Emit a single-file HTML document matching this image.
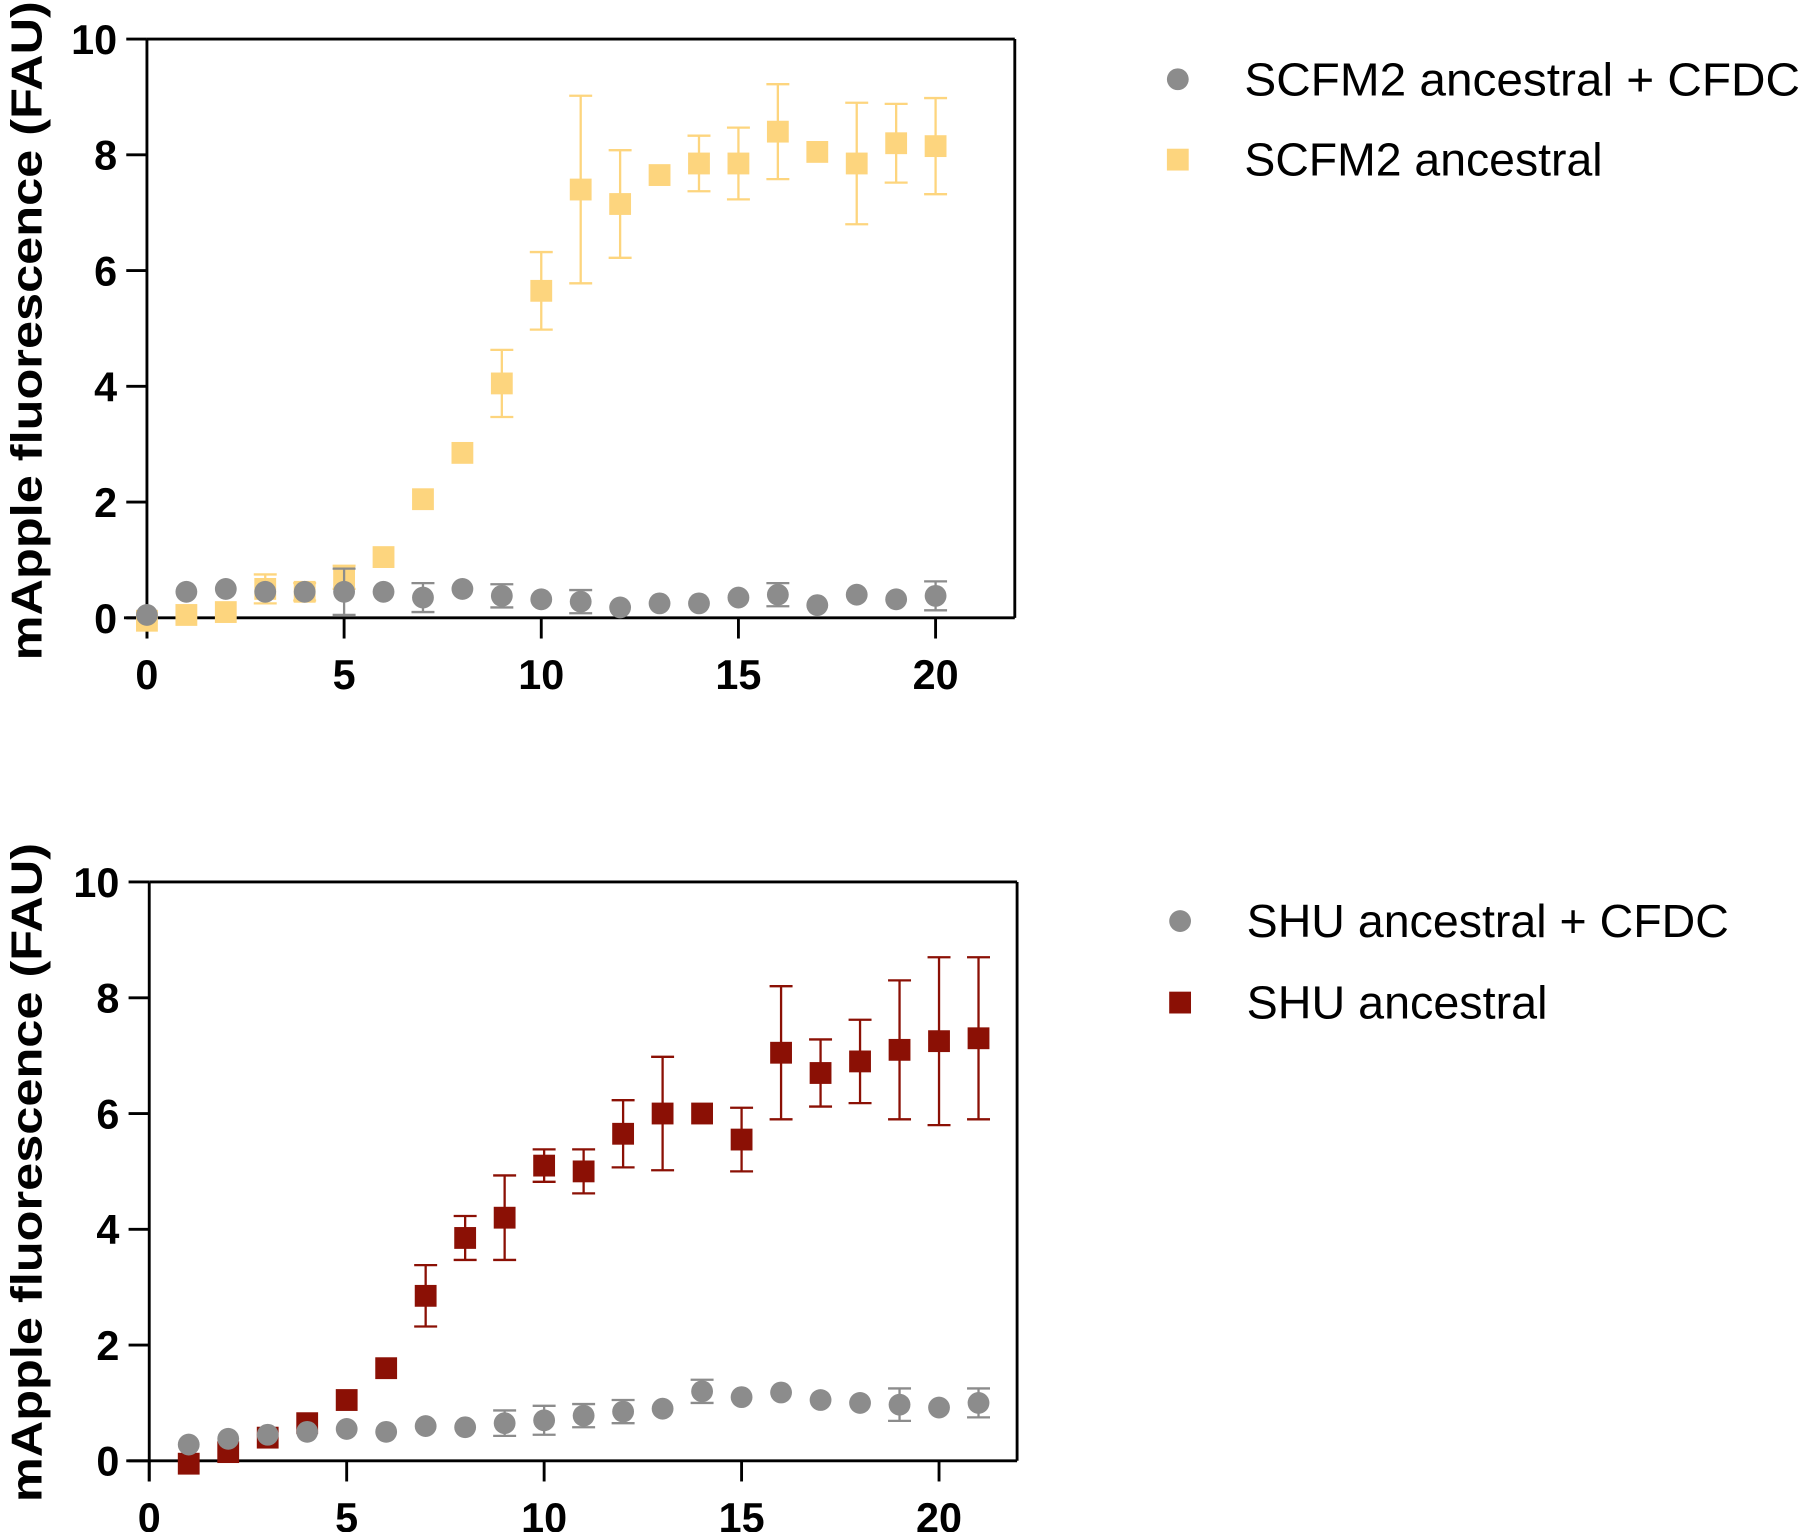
<!DOCTYPE html>
<html><head><meta charset="utf-8"><style>
html,body{margin:0;padding:0;background:#fff;}
svg{display:block;font-family:"Liberation Sans",Arial,sans-serif;}
</style></head><body>
<svg id="chart" width="1800" height="1532" viewBox="0 0 1568 1334" preserveAspectRatio="none" xmlns="http://www.w3.org/2000/svg">
<g id="top"></g>
<g id="bot"></g>
</svg>
<script>
const xTicks=[0,5,10,15,20];
const yTicks=[0,2,4,6,8,10];
const topX=[0,1,2,3,4,5,6,7,8,9,10,11,12,13,14,15,16,17,18,19,20];
const topGray=[0.05,0.45,0.5,0.45,0.45,0.45,0.45,0.35,0.5,0.38,0.32,0.28,0.18,0.25,0.25,0.35,0.4,0.22,0.4,0.32,0.38];
const topGrayErr=[0,0,0,0,0,0.4,0,0.25,0,0.2,0,0.2,0,0,0,0,0.2,0,0,0,0.25];
const topYellow=[-0.05,0.05,0.1,0.5,0.45,0.7,1.05,2.05,2.85,4.05,5.65,7.4,7.15,7.65,7.85,7.85,8.4,8.05,7.85,8.2,8.15];
const topYellowErr=[0,0,0,0.25,0.15,0.2,0,0,0,0.58,0.67,1.62,0.93,0,0.48,0.62,0.82,0,1.05,0.68,0.83];
const botX=[1,2,3,4,5,6,7,8,9,10,11,12,13,14,15,16,17,18,19,20,21];
const botRed=[-0.05,0.15,0.4,0.65,1.05,1.6,2.85,3.85,4.2,5.1,5.0,5.65,6.0,6.0,5.55,7.05,6.7,6.9,7.1,7.25,7.3];
const botRedErr=[0,0,0,0,0,0,0.53,0.38,0.73,0.28,0.38,0.58,0.98,0,0.55,1.15,0.58,0.72,1.2,1.45,1.4];
const botGray=[0.28,0.38,0.45,0.5,0.55,0.5,0.6,0.58,0.65,0.7,0.78,0.85,0.9,1.2,1.1,1.18,1.05,1.0,0.97,0.92,1.0];
const botGrayErr=[0,0,0,0,0,0,0,0,0.22,0.25,0.2,0.2,0,0.2,0,0,0,0,0.28,0,0.25];
const NS="http://www.w3.org/2000/svg";
function mk(p,t,a){const e=document.createElementNS(NS,t);for(const k in a)e.setAttribute(k,a[k]);p.appendChild(e);return e;}
function panel(g,o){
  const X=v=>o.x0+v*o.sx, Y=v=>o.y0-v*o.sy;
  let e=mk(g,'line',{x1:o.x0,y1:Y(10),x2:o.x0,y2:o.y0+18,stroke:'#000','stroke-width':2.5});
  
  e=mk(g,'line',{x1:o.x0-20,y1:o.y0,x2:o.right,y2:o.y0,stroke:'#000','stroke-width':2.5});
  
  e=mk(g,'line',{x1:o.x0,y1:Y(10),x2:o.right,y2:Y(10),stroke:'#000','stroke-width':2.5});
  
  e=mk(g,'line',{x1:o.right,y1:Y(10),x2:o.right,y2:o.y0,stroke:'#000','stroke-width':2.5});
  
  yTicks.forEach(v=>{
    let t=mk(g,'line',{x1:o.x0-18,y1:Y(v),x2:o.x0,y2:Y(v),stroke:'#000','stroke-width':2.5});
    
    t=mk(g,'text',{x:o.x0-26,y:Y(v)+13,'text-anchor':'end','font-size':36,'font-weight':'bold'});t.textContent=v;
    
  });
  xTicks.forEach(v=>{
    let t=mk(g,'line',{x1:X(v),y1:o.y0,x2:X(v),y2:o.y0+18,stroke:'#000','stroke-width':2.5});
    
    t=mk(g,'text',{x:X(v),y:o.y0+62,'text-anchor':'middle','font-size':36,'font-weight':'bold'});t.textContent=v;
    
  });
  let tt=mk(g,'text',{x:0,y:0,transform:`translate(36,${o.titleY}) rotate(-90)`,'text-anchor':'middle','font-size':38,'font-weight':'bold',textLength:o.titleLen,lengthAdjust:'spacingAndGlyphs'});
  tt.textContent='mApple fluorescence (FAU)';
  
  o.series.forEach(s=>{
    s.xs.forEach((xv,i)=>{
      const cx=X(xv),cy=Y(s.vals[i]),er=s.err[i];
      if(er>0){
        const eb=mk(g,'path',{d:`M${cx},${Y(s.vals[i]+er)}V${Y(s.vals[i]-er)}M${cx-10},${Y(s.vals[i]+er)}h20M${cx-10},${Y(s.vals[i]-er)}h20`,stroke:s.color,'stroke-width':2,fill:'none'});
        
      }
      let m;
      if(s.shape==='sq') m=mk(g,'rect',{x:cx-9.5,y:cy-9.5,width:19,height:19,fill:s.color});
      else m=mk(g,'circle',{cx:cx,cy:cy,r:9.5,fill:s.color});
      
    });
    let lm;
    if(s.shape==='sq') lm=mk(g,'rect',{x:o.legX-9.5,y:s.legY-9.5,width:19,height:19,fill:s.color});
    else lm=mk(g,'circle',{cx:o.legX,cy:s.legY,r:9.5,fill:s.color});
    
    const lt=mk(g,'text',{x:o.legX+58,y:s.legY+14,'font-size':40,textLength:s.legLen,lengthAdjust:'spacingAndGlyphs'});lt.textContent=s.label;
    
  });
}
panel(document.getElementById('top'),{x0:128,y0:538,sx:34.35,sy:50.4,right:884,titleY:288,titleLen:574,legX:1026,series:[
 {name:'scfm2-ancestral',xs:topX,vals:topYellow,err:topYellowErr,color:'#fdd57e',shape:'sq',label:'SCFM2 ancestral',legY:139,legLen:312},
 {name:'scfm2-cfdc',xs:topX,vals:topGray,err:topGrayErr,color:'#8c8c8c',shape:'c',label:'SCFM2 ancestral  + CFDC',legY:69,legLen:484}]});
panel(document.getElementById('bot'),{x0:130,y0:1272,sx:34.4,sy:50.4,right:886,titleY:1021,titleLen:574,legX:1028,series:[
 {name:'shu-ancestral',xs:botX,vals:botRed,err:botRedErr,color:'#8b1005',shape:'sq',label:'SHU ancestral',legY:873,legLen:262},
 {name:'shu-cfdc',xs:botX,vals:botGray,err:botGrayErr,color:'#8c8c8c',shape:'c',label:'SHU ancestral + CFDC',legY:802,legLen:420}]});
</script>
</body></html>
